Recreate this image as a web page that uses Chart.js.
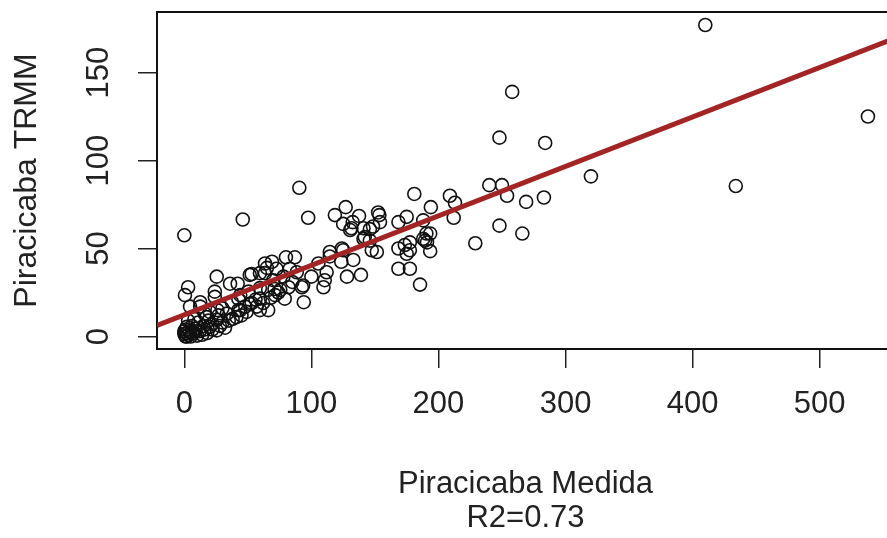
<!DOCTYPE html>
<html>
<head>
<meta charset="utf-8">
<script src="https://cdn.jsdelivr.net/npm/chart.js@4.4.1/dist/chart.umd.min.js"></script>
<style>
  html, body { margin: 0; padding: 0; background: #fff; overflow: hidden; }
  #plot { display: block; }
</style>
</head>
<body>
<canvas id="plot" width="894" height="538"></canvas>
<script>
// Piracicaba: chuva medida x estimativa TRMM
const medida = [
  410, 258, 248, 284, 538, 320, 434, 240, 250, 209, 213, 212, 254, 269, 283, 248, 266, 229, 181, 194, 90.5, 46, 0, 97.5,
  127, 118.5, 137.5, 125, 132.5, 153.5, 152.5, 154, 148.5, 141, 131.5, 168.5, 175, 188, 193.5, 190.5, 191, 188, 189.5, 193.5,
  177.5, 173.5, 177.5, 175, 168.5, 168.5, 177.5, 185.5, 146, 142, 151.5, 147.5, 141, 130.5, 146, 124, 125, 114.5, 114.5, 133,
  123.5, 128, 139, 105.5, 112, 110.5, 109.5, 100, 92.5, 94, 87, 80, 69, 65,
  53, 25.5, 3, 0.5, 36, 24, 51.5, 59.5, 71.5, 79, 93.5, 59.5, 66, 44, 12.5, 4.5, 24, 42.5, 63.5, 63.5, 70, 59.5, 51.5, 57,
  42.5, 33.5, 25.5, 17.5, 12.5, 20, 25.5, 2, 2, 2, 6, 0, 8.5, 41, 49, 78, 88.5, 83, 72.5, 75.5, 66, 59.5, 50.5, 44, 37.5, 42,
  1, 3, 5, 7, 9, 10, 4, 1, 6, 12, 14, 15, 18, 22, 28, 30, 32, 35, 38, 27, 22, 19, 16, 11, 8, 3, 0, 45, 48, 53, 56, 62, 68,
  71, 74, 82, 85, 30, 26, 20, 16
];
const trmm = [
  177, 139, 113, 110, 125, 91, 85.5, 86, 86, 80, 76, 67.5, 80, 76.5, 79, 63, 58.5, 53, 81, 73.5, 84.5, 66.5, 57.5, 67.5,
  73.5, 69, 68.5, 64, 65, 69, 70.5, 65, 62.5, 61.5, 61.5, 65, 68, 66, 58.5, 58.5, 53.5, 55.5, 54.5, 48.5,
  53.5, 52, 49, 47, 50, 38.5, 38.5, 29.5, 54.5, 56.5, 48, 49, 55.5, 60.5, 61, 50, 49, 48, 45.5, 43.5,
  42.5, 34, 35, 41.5, 36.5, 32, 28, 34, 28, 19.5, 45, 45, 42.5, 39,
  35.5, 34, 28, 23.5, 30, 25.5, 35, 36, 23.5, 21.5, 29, 15, 15, 15, 19.5, 17, 22.5, 21.5, 41.5, 36, 32, 21.5, 18.5, 17,
  15, 13, 9.5, 11, 17, 5.5, 3.5, 5.5, 2, 0, 1.5, 1.5, 4.5, 11, 14, 34, 36.5, 38.5, 38.5, 26.5, 26.5, 27.5, 25.5, 23.5, 19.5, 30,
  0, 1, 0, 2, 3, 0.5, 3, 4, 6, 3, 1, 6, 2, 4, 6, 8, 5, 9, 10, 12, 7, 9, 4, 8, 10, 9, 3, 12, 17, 19, 21, 19, 22,
  27, 25, 28, 31, 16, 15, 14, 13
];

const xTicks = [0, 100, 200, 300, 400, 500];
const yTicks = [0, 50, 100, 150];

// reta ajustada (lm)
const fitIntercept = 12.3;
const fitSlope = 0.281;

const xMin = -21.5, xMax = 558.5;
const yMin = -7.1, yMax = 184.4;

const pontos = medida.map((x, i) => ({ x: x, y: trmm[i] }));
const reta = [xMin, xMax].map(x => ({ x: x, y: fitIntercept + fitSlope * x }));

const ink = '#222';
const font = { family: '"Liberation Sans", Arial, sans-serif', size: 31 };

// moldura do grafico
const boxPlugin = {
  id: 'box',
  beforeDatasetsDraw(chart) {
    const a = chart.chartArea;
    const ctx = chart.ctx;
    ctx.save();
    ctx.strokeStyle = '#111';
    ctx.lineWidth = 2;
    ctx.strokeRect(a.left, a.top, a.right - a.left, a.bottom - a.top);
    ctx.restore();
  }
};

new Chart(document.getElementById('plot').getContext('2d'), {
  type: 'scatter',
  data: {
    datasets: [
      {
        type: 'line',
        data: reta,
        borderColor: '#a32424',
        borderWidth: 5,
        pointRadius: 0,
        fill: false,
        clip: 0,
        order: 0
      },
      {
        data: pontos,
        borderColor: '#111',
        backgroundColor: 'rgba(0,0,0,0)',
        pointRadius: 6.5,
        pointBorderWidth: 1.6,
        order: 1
      }
    ]
  },
  options: {
    responsive: false,
    animation: false,
    events: [],
    // canvas um pouco mais largo que a janela: a borda direita fica de fora
    layout: { autoPadding: false, padding: { top: 12, left: 0, right: 0, bottom: 0 } },
    plugins: { legend: { display: false }, tooltip: { enabled: false } },
    scales: {
      x: {
        type: 'linear',
        position: 'bottom',
        min: xMin,
        max: xMax,
        afterBuildTicks: s => { s.ticks = xTicks.map(v => ({ value: v })); },
        afterFit: s => { s.height = 189; s.paddingLeft = 0; s.paddingRight = 0; },
        border: { display: false },
        grid: { drawOnChartArea: false, drawTicks: true, tickLength: 19, color: ink, lineWidth: 1.5 },
        ticks: { font: font, color: ink, padding: 18, autoSkip: false, maxRotation: 0 },
        title: {
          display: true,
          text: ['Piracicaba Medida', 'R2=0.73'],
          color: ink,
          font: { family: font.family, size: 31, lineHeight: 1.1 },
          padding: { top: 0, bottom: 2 }
        }
      },
      y: {
        type: 'linear',
        position: 'left',
        min: yMin,
        max: yMax,
        afterBuildTicks: s => { s.ticks = yTicks.map(v => ({ value: v })); },
        afterFit: s => { s.width = 157; s.paddingTop = 0; s.paddingBottom = 0; },
        border: { display: false },
        grid: { drawOnChartArea: false, drawTicks: true, tickLength: 19, color: ink, lineWidth: 1.5 },
        ticks: { font: font, color: ink, padding: 13, autoSkip: false, minRotation: 90, maxRotation: 90, crossAlign: 'center' },
        title: {
          display: true,
          text: 'Piracicaba TRMM',
          color: ink,
          font: { family: font.family, size: 32 },
          padding: { top: 8, bottom: 0 }
        }
      }
    }
  },
  plugins: [boxPlugin]
});
</script>
</body>
</html>
